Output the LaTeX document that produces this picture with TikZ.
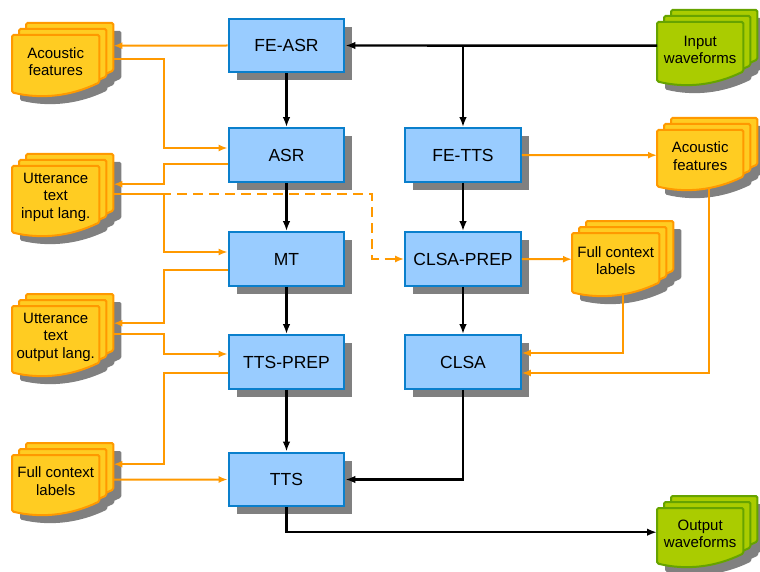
\documentclass[tikz,border=0pt]{standalone}
\usepackage{fontspec}
\setmainfont{Liberation Sans}
\usetikzlibrary{arrows.meta,calc,shadows,backgrounds}

\definecolor{boxfill}{HTML}{99CCFF}
\definecolor{boxline}{HTML}{0A7FCC}
\definecolor{docfill}{HTML}{FFCC22}
\definecolor{docline}{HTML}{FF9900}
\definecolor{wavefill}{HTML}{AACC00}
\definecolor{waveline}{HTML}{66A300}
\definecolor{shadowgray}{HTML}{808080}

\tikzset{
  stage/.style={draw=boxline, fill=boxfill, line width=2.2pt, minimum width=115.5, minimum height=53.5,
    inner sep=0pt, font=\fontsize{17.5}{20}\selectfont,
    general shadow={fill=shadowgray, shadow xshift=8pt, shadow yshift=-8pt}},
  doc/.style={anchor=north west, inner sep=0pt, align=center, font=\fontsize{15}{17.5}\selectfont},
  orangedoc/.style={fill=docfill, draw=docline},
  greendoc/.style={fill=wavefill, draw=waveline},
  flow/.style={line width=2.4pt, >={Latex[length=10pt,width=7.5pt]}, ->},
  oline/.style={draw=docline, line width=2pt, >={Latex[length=9pt,width=7pt]}},
}

% one sheet of a document stack, #1 node, #2/#3 offset
\newcommand\docpage[3]{([shift={(#2,#3)}]#1.north west) -- ([shift={(#2,#3)}]#1.north east)
  -- ([shift={(#2,#3-6)}]#1.south east)
  .. controls ($(#1.south west)!0.67!(#1.south east)+(#2,#3+8)$)
  and ($(#1.south west)!0.33!(#1.south east)+(#2,#3+11)$)
  .. ([shift={(#2,#3+4)}]#1.south west) -- cycle}

\newcommand\docstack[2]{%
  \begin{pgfonlayer}{background}
    \foreach \dx/\dy in {22/-4,15/2,8/8}
      \fill[shadowgray, rounded corners=1.5pt] \docpage{#1}{\dx}{\dy};
    \foreach \dx/\dy in {14/-12,7/-6,0/0}
      \filldraw[#2, line width=2pt, rounded corners=1.5pt] \docpage{#1}{\dx}{\dy};
  \end{pgfonlayer}}

\begin{document}
\begin{tikzpicture}[x=1pt,y=-1pt]
\useasboundingbox (0,0) rectangle (760,572);

% processing stages
\node[stage] (feasr) at (286.5,45.5) {FE-ASR};
\node[stage] (asr) at (286.5,155) {ASR};
\node[stage] (mt) at (286.5,259) {MT};
\node[stage] (ttsprep) at (286.5,362) {TTS-PREP};
\node[stage] (tts) at (286.5,479.5) {TTS};
\node[stage] (fetts) at (463,155) {FE-TTS};
\node[stage] (clsaprep) at (463,259) {CLSA-PREP};
\node[stage] (clsa) at (463,362) {CLSA};

% data files
\node[doc, minimum width=87, minimum height=53] (acl) at (12,35) {Acoustic\\features};
\node[doc, minimum width=87, minimum height=62] (uin) at (12,166) {Utterance\\text\\input lang.};
\node[doc, minimum width=87, minimum height=62] (uout) at (12,306) {Utterance\\text\\output lang.};
\node[doc, minimum width=87, minimum height=52] (fcl) at (12,455) {Full context\\labels};
\node[doc, minimum width=86, minimum height=55] (inw) at (657,22) {Input\\waveforms};
\node[doc, minimum width=86, minimum height=52] (acr) at (657,130) {Acoustic\\features};
\node[doc, minimum width=87, minimum height=55] (fcr) at (572,233) {Full context\\labels};
\node[doc, minimum width=86, minimum height=51] (outw) at (657,508) {Output\\waveforms};

\foreach \d in {acl,uin,uout,fcl,acr,fcr}
  \docstack{\d}{orangedoc};
\foreach \d in {inw,outw}
  \docstack{\d}{greendoc};

% main flow
\draw[flow] ([shift={(0,-4)}]inw.west) -- (feasr.east);
\draw[flow] (fetts.north |- feasr.east) -- (fetts.north);
\foreach \a/\b in {feasr/asr,asr/mt,mt/ttsprep,ttsprep/tts,fetts/clsaprep,clsaprep/clsa}
  \draw[flow] (\a) -- (\b);
\draw[flow] (clsa.south) |- (tts.east);
\draw[flow] (tts.south) |- ([shift={(0,-1.5)}]outw.west);

% left side files
\draw[oline,->] (feasr.west) -- ([shift={(14,-16)}]acl.east);
\draw[oline,<-] ([shift={(0,-7)}]asr.west) -- ++(-64,0) |- ([shift={(14,-3)}]acl.east);
\draw[oline,->] ([shift={(0,9)}]asr.west) -- ++(-64,0) |- ([shift={(14,-13)}]uin.east);
\draw[oline,<-] ([shift={(0,-7)}]mt.west) -- ++(-64,0) |- ([shift={(14,-3)}]uin.east);
\draw[oline,->] ([shift={(0,11)}]mt.west) -- ++(-64,0) |- ([shift={(14,-14)}]uout.east);
\draw[oline,<-] ([shift={(0,-8)}]ttsprep.west) -- ++(-64,0) |- ([shift={(14,-3)}]uout.east);
\draw[oline,->] ([shift={(0,11)}]ttsprep.west) -- ++(-64,0) |- ([shift={(14,-17)}]fcl.east);
\draw[oline,->] ([shift={(14,-1.5)}]fcl.east) -- (tts.west);
\draw[oline,->,dash pattern=on 10pt off 6pt] ([shift={(14,-3)}]uin.east) -| ([shift={(-32,0)}]clsaprep.west) -- (clsaprep.west);

% right side files
\draw[oline,->] (fetts.east) -- ([shift={(0,-1)}]acr.west);
\draw[oline,->] (clsaprep.east) -- ([shift={(0,-1.5)}]fcr.west);
\draw[oline,->] ([shift={(7.5,4.5)}]fcr.south) |- ([shift={(0,-9)}]clsa.east);
\draw[oline,->] ([shift={(8.5,5)}]acr.south) |- ([shift={(0,11)}]clsa.east);
\end{tikzpicture}
\end{document}
